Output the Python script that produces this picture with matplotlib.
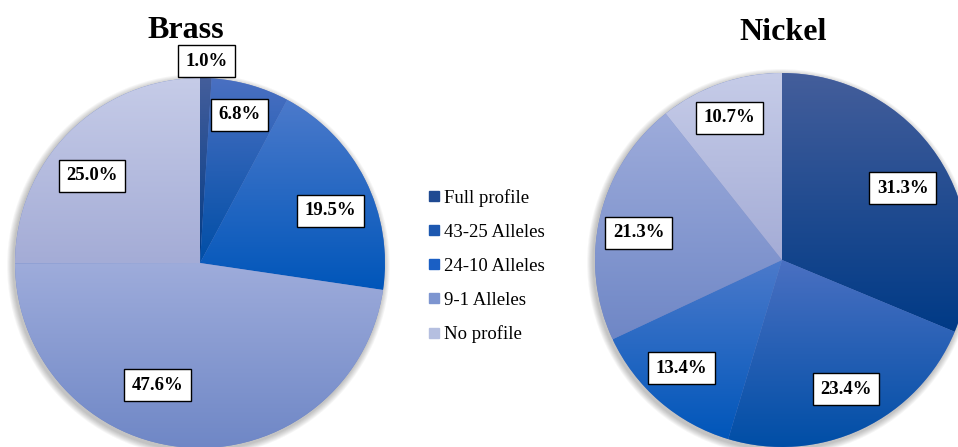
import numpy as np
import matplotlib
matplotlib.use('Agg')
import matplotlib.pyplot as plt
from matplotlib.lines import Line2D
from matplotlib.patches import Circle

categories = ['Full profile', '43-25 Alleles', '24-10 Alleles', '9-1 Alleles', 'No profile']
brass = [1.0, 6.8, 19.5, 47.6, 25.0]
nickel = [31.3, 23.4, 13.4, 21.3, 10.7]

# gradient fill per slice (top colour, bottom colour)
grad_top = ['#445e9b', '#4a70c2', '#4c7acb', '#9eacdb', '#c6cce8']
grad_bot = ['#003a86', '#004ea6', '#0056ba', '#6f87c6', '#a4acd6']
legend_colors = ['#1f4a92', '#1d58b0', '#1a5fc4', '#7d95d0', '#b5bfe0']

# label placement: fraction of radius and angular nudge (deg) from slice middle
brass_lab = [(1.09, 0), (0.83, -1), (0.76, 5), (0.70, 15), (0.75, -6)]
nickel_lab = [(0.75, 3), (0.77, -1), (0.79, 2), (0.78, -2.5), (0.81, -1)]

W, H = 958, 447
fig = plt.figure(figsize=(W / 100, H / 100), dpi=100)
ax = fig.add_axes([0, 0, 1, 1])
serif = 'Liberation Serif'


def to_rgb(c):
    return np.array(matplotlib.colors.to_rgb(c))


def draw_pie(values, cx, cy, r, labels_pos, title, tx, ty):
    # soft shadow
    for k in range(7):
        ax.add_patch(Circle((cx - 1.5, cy - 2.5), r + 1 + k * 0.9, color='#000000',
                            alpha=0.035, lw=0, zorder=0))
    ax.add_patch(Circle((cx, cy), r, color='#6f86c4', lw=0, zorder=1))
    wedges, _ = ax.pie(values, startangle=90, counterclock=False, center=(cx, cy),
                       radius=r, wedgeprops=dict(linewidth=0, facecolor='none'))
    for i, w in enumerate(wedges):
        ext = w.get_path().get_extents()
        n = 200
        t = np.linspace(0, 1, n)[:, None]
        g = to_rgb(grad_bot[i]) * (1 - t) + to_rgb(grad_top[i]) * t
        img = ax.imshow(g[:, None, :], extent=(ext.x0, ext.x1, ext.y0, ext.y1),
                        origin='lower', aspect='auto', interpolation='bilinear', zorder=2)
        img.set_clip_path(w)
    total = sum(values)
    cum = 0
    for i, v in enumerate(values):
        rf, nudge = labels_pos[i]
        theta = np.deg2rad(360 * (cum + v / 2) / total + nudge)
        x = cx + rf * r * np.sin(theta)
        y = cy + rf * r * np.cos(theta)
        ax.text(x, y, f'{v:.1f}%', ha='center', va='center', fontsize=13.5,
                fontweight='bold', family=serif, zorder=5,
                bbox=dict(boxstyle='square,pad=0.4', fc='white', ec='black', lw=1.0))
        cum += v
    ax.text(tx, ty, title, ha='center', va='baseline', fontsize=23,
            fontweight='bold', family=serif)


draw_pie(brass, 200, H - 263, 185, brass_lab, 'Brass', 186, H - 38)
draw_pie(nickel, 782, H - 260, 187, nickel_lab, 'Nickel', 783, H - 40)

ax.set_xlim(0, W)
ax.set_ylim(0, H)
ax.set_aspect('equal')
ax.axis('off')

handles = [Line2D([], [], marker='s', linestyle='none', markersize=7.2,
                  markerfacecolor=c, markeredgecolor=c) for c in legend_colors]
fig.legend(handles, categories, loc='center left', bbox_to_anchor=(427 / W, 1 - 266 / H),
           frameon=False, prop=dict(family=serif, size=13.5), handlelength=0.7,
           handletextpad=0.2, labelspacing=0.9, borderpad=0, borderaxespad=0)

fig.savefig('out.png', dpi=100)
